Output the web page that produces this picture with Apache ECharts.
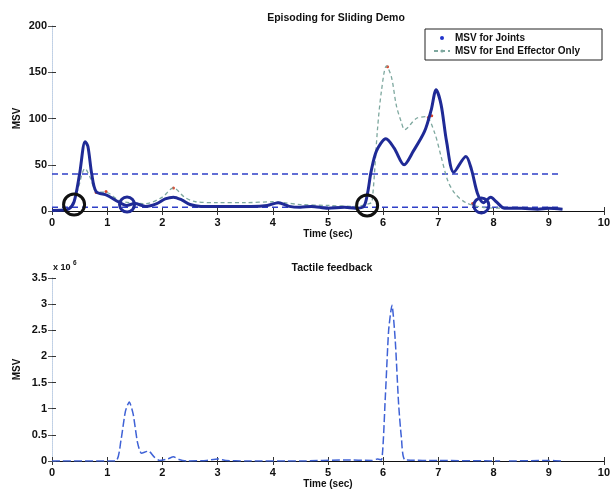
<!DOCTYPE html>
<html><head><meta charset="utf-8">
<script src="https://cdn.jsdelivr.net/npm/echarts@6/dist/echarts.min.js"></script>
<style>html,body{margin:0;padding:0;background:#fff}#c{width:613px;height:496px}</style>
</head><body><div id="c"></div>
<script>
// ---- data ----
const topTitle = 'Episoding for Sliding Demo';
const bottomTitle = 'Tactile feedback';
const xLabel = 'Time (sec)';
const yLabel = 'MSV';
const xTicks = [0,1,2,3,4,5,6,7,8,9,10];
const topYTicks = [0,50,100,150,200];
const bottomYTicks = [0,0.5,1,1.5,2,2.5,3,3.5];

const jointsT = [0,0.2,0.3,0.4,0.5,0.6,0.65,0.72,0.8,1.0,1.2,1.35,1.5,1.7,1.9,2.05,2.2,2.35,2.5,2.7,3.0,3.3,3.6,3.9,4.1,4.3,4.5,4.7,5.0,5.3,5.5,5.65,5.72,5.78,5.88,6.05,6.2,6.38,6.55,6.75,6.87,6.96,7.05,7.15,7.28,7.5,7.6,7.71,7.82,7.95,8.05,8.2,8.5,8.8,9.0,9.25];
const jointsV = [0.5,1,2,10,40,75,70,40,21,17,10,6,8,5,8,13,15,12,7,5,5,5,5,6,9,5,4,5,3,4,3,5,20,42,65,78,68,50,65,86,109,131,115,75,42,59,45,19,9,15,10,3,3,2,3,2];

const effT = [0,0.3,0.45,0.6,0.7,0.8,1.0,1.2,1.4,1.7,2.0,2.2,2.4,2.6,3.0,3.5,4.0,4.2,4.5,5.0,5.5,5.75,5.8,5.9,5.97,6.06,6.15,6.24,6.33,6.39,6.6,6.78,6.93,7.05,7.17,7.3,7.5,7.8,8.2,9.25];
const effV = [0.5,2,20,46,35,21,20,12,9,8,15,25,15,10,9,9,10,9,7,6,5,8,10,90,130,157,145,114,96,88,100,102,85,59,33,19,9,4,3,2];

const redMarksT = [0.8,0.98,2.2,6.08,6.82,6.88,7.62];
const redMarksV = [20,21,25,156,101,103,8];

const thresholdHigh = 40;
const thresholdLow = 4;
const thresholdStart = 0;
const thresholdEnd = 9.2;

const blackCirclesT = [0.4,5.71];
const blackCirclesV = [7,6];
const blueCirclesT = [1.36,7.78];
const blueCirclesV = [7,6];

// tactile values in units of 10^6 ; null = gap
const tactT = [0,1.15,1.25,1.33,1.4,1.47,1.55,1.62,1.75,1.85,1.95,2.1,2.2,2.3,2.45,2.8,3.0,3.15,3.5,4.5,5.3,5.8,5.9,5.97,6.04,6.1,6.16,6.22,6.28,6.33,6.4,7.0,8.12,8.2,8.28,9.0,9.24];
const tactV = [0,0,0.4,0.95,1.13,0.9,0.35,0.15,0.19,0.08,0.01,0.04,0.08,0.03,0,0.01,0.04,0.01,0,0,0.02,0.01,0.04,0.02,1.23,2.5,2.98,2.3,1.1,0.46,0.02,0.01,0,null,0,0.01,0];

// ---- chart ----
const zip = (a,b) => a.map((t,i)=>[t, b[i]===null ? '-' : b[i]]);
const font = '"Liberation Sans", Arial, sans-serif';
const tickLab = {fontFamily: font, fontWeight: 'bold', fontSize: 11, color: '#111'};

function xAxes(gi){
  return [
    {type:'value', gridIndex:gi, min:0, max:10, interval:1, position:'bottom',
     axisLine:{show:false}, axisTick:{inside:true, length:4, lineStyle:{color:'#333'}},
     axisLabel:{...tickLab, margin:6}, splitLine:{show:false},
     name:xLabel, nameLocation:'middle', nameGap:18, nameMoveOverlap:false,
     nameTextStyle:{fontFamily:font, fontWeight:'bold', fontSize:10, color:'#111'}},
    {type:'value', gridIndex:gi, min:0, max:10, interval:1, position:'top',
     axisLine:{show:true, lineStyle:{color:'#111', width:1.2}},
     axisTick:{inside:true, length:4, lineStyle:{color:'#333'}},
     axisLabel:{show:false}, splitLine:{show:false}}
  ];
}
function yAxes(gi, max, interval){
  return [
    {type:'value', gridIndex:gi, min:0, max:max, interval:interval, position:'left',
     axisLine:{show:true, lineStyle:{color:'#a8c4ea', width:1}},
     axisTick:{show:true, inside:true, length:4, lineStyle:{color:'#333'}},
     axisLabel:{...tickLab, margin:5}, splitLine:{show:false},
     name:yLabel, nameLocation:'middle', nameGap:30, nameRotate:90, nameMoveOverlap:false,
     nameTextStyle:{fontFamily:font, fontWeight:'bold', fontSize:10, color:'#111'}},
    {type:'value', gridIndex:gi, min:0, max:max, interval:interval, position:'right',
     axisLine:{show:true, lineStyle:{color:'#c9d6e6', width:1, type:'dotted'}},
     axisTick:{show:true, inside:true, length:4, lineStyle:{color:'#555'}},
     axisLabel:{show:false}, splitLine:{show:false}}
  ];
}

const chart = echarts.init(document.getElementById('c'), null, {renderer:'canvas'});
chart.setOption({
  animation:false,
  backgroundColor:'#fff',
  title:[
    {text:topTitle, left:331, top:8, textAlign:'center',
     textStyle:{fontFamily:font, fontWeight:'bold', fontSize:10.5, color:'#111'}},
    {text:bottomTitle, left:327, top:258, textAlign:'center',
     textStyle:{fontFamily:font, fontWeight:'bold', fontSize:10.5, color:'#111'}}
  ],
  grid:[
    {left:52, top:26, width:555, height:185},
    {left:52, top:278, width:555, height:183}
  ],
  xAxis:[...xAxes(0), ...xAxes(1)],
  yAxis:[...yAxes(0, 200, 50), ...yAxes(1, 3.5, 0.5)],
  legend:{
    left:425, top:29, orient:'vertical',
    borderColor:'#222', borderWidth:1, padding:[4,22,4,8], itemGap:3,
    itemWidth:16, itemHeight:4,
    textStyle:{fontFamily:font, fontWeight:'bold', fontSize:10, color:'#111'},
    data:[{name:'MSV for Joints', icon:'circle'}, {name:'MSV for End Effector Only'}]
  },
  graphic:[
    {type:'text', left:53, top:263,
     style:{text:'x 10', fontFamily:font, fontWeight:'bold', fontSize:9, fill:'#111'}},
    {type:'text', left:73, top:260,
     style:{text:'6', fontFamily:font, fontWeight:'bold', fontSize:6.5, fill:'#111'}}
  ],
  series:[
    {name:'threshold high', type:'line', xAxisIndex:0, yAxisIndex:0, symbol:'none', silent:true,
     data:[[thresholdStart,thresholdHigh],[thresholdEnd,thresholdHigh]],
     lineStyle:{color:'#2f3fc8', width:1.4, type:[6,4]}},
    {name:'threshold low', type:'line', xAxisIndex:0, yAxisIndex:0, symbol:'none', silent:true,
     data:[[thresholdStart,thresholdLow],[thresholdEnd,thresholdLow]],
     lineStyle:{color:'#2f3fc8', width:1.4, type:[6,4]}},
    {name:'MSV for End Effector Only', type:'line', xAxisIndex:0, yAxisIndex:0, symbol:'none',
     smooth:0.3, data:zip(effT, effV),
     itemStyle:{color:'#7ea89f'},
     lineStyle:{color:'#7ea89f', width:1.3, type:[4,3]}},
    {name:'red marks', type:'scatter', xAxisIndex:0, yAxisIndex:0, symbolSize:3, silent:true,
     data:zip(redMarksT, redMarksV), itemStyle:{color:'#d9452b', opacity:1}},
    {name:'MSV for Joints', type:'line', xAxisIndex:0, yAxisIndex:0, symbol:'none',
     smooth:0.3, data:zip(jointsT, jointsV),
     itemStyle:{color:'#2233cc'},
     lineStyle:{color:'#1f2a96', width:3}},
    {name:'black circles', type:'scatter', xAxisIndex:0, yAxisIndex:0, symbol:'circle',
     symbolSize:21, silent:true, data:zip(blackCirclesT, blackCirclesV),
     itemStyle:{color:'rgba(0,0,0,0)', borderColor:'#111', borderWidth:3, opacity:1}, z:5},
    {name:'blue circles', type:'scatter', xAxisIndex:0, yAxisIndex:0, symbol:'circle',
     symbolSize:15, silent:true, data:zip(blueCirclesT, blueCirclesV),
     itemStyle:{color:'rgba(0,0,0,0)', borderColor:'#1f2a96', borderWidth:3, opacity:1}, z:5},
    {name:'Tactile', type:'line', xAxisIndex:2, yAxisIndex:2, symbol:'none', connectNulls:false,
     smooth:0.2, data:zip(tactT, tactV),
     lineStyle:{color:'#3f62d6', width:1.5, type:[8,3]}}
  ]
});
</script></body></html>
